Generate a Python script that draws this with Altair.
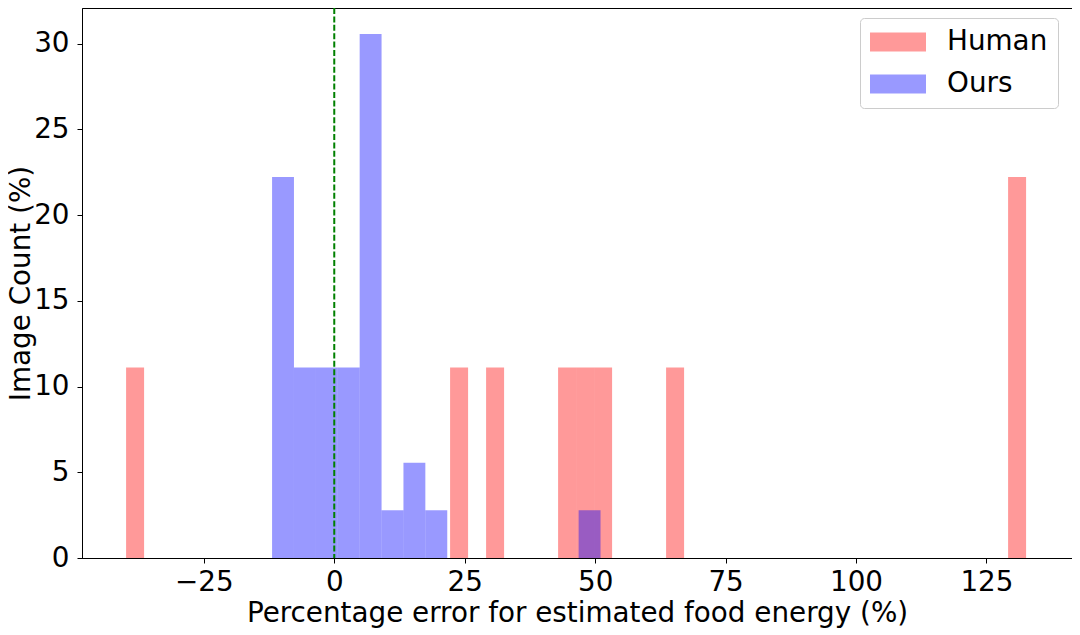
import altair as alt
import pandas as pd

# Histogram bins (left edge, bin width, height in %)
human_left = [-39.9, 22.2, 29.1, 42.9, 46.35, 49.8, 63.6, 129.15]
human_pct = [11.11, 11.11, 11.11, 11.11, 11.11, 11.11, 11.11, 22.22]
human_width = 3.45

ours_left = [-11.92, -7.72, -3.53, 0.67, 4.87, 9.07, 13.26, 17.46, 46.84]
ours_pct = [22.22, 11.11, 11.11, 11.11, 30.56, 2.78, 5.56, 2.78, 2.78]
ours_width = 4.197

series = ["Human", "Ours"]
colors = ["#ff0000", "#0000ff"]
x_ticks = [-25, 0, 25, 50, 75, 100, 125]
y_ticks = [0, 5, 10, 15, 20, 25, 30]
x_domain = [-48.35, 141.4]
y_domain = [0, 32.08]
ref_line = [0]

rows = []
for l, p in zip(human_left, human_pct):
    rows.append({"series": "Human", "x": l, "x2": l + human_width, "pct": p})
for l, p in zip(ours_left, ours_pct):
    rows.append({"series": "Ours", "x": l, "x2": l + ours_width, "pct": p})
df = pd.DataFrame(rows)
df["order"] = range(len(df))

FONT = "DejaVu Sans"
FS = 27.8

bars = alt.Chart(df).mark_rect(opacity=0.4, strokeWidth=0).encode(
    x=alt.X("x:Q", scale=alt.Scale(domain=x_domain, nice=False, zero=False),
            axis=alt.Axis(values=x_ticks, title="Percentage error for estimated food energy (%)",
                          labelPadding=5, titlePadding=4)),
    x2="x2:Q",
    y=alt.Y("pct:Q", scale=alt.Scale(domain=y_domain, nice=False),
            axis=alt.Axis(values=y_ticks, title="Image Count (%)", labelPadding=8, titlePadding=-2)),
    y2=alt.datum(0),
    color=alt.Color("series:N", scale=alt.Scale(domain=series, range=colors),
                    legend=alt.Legend(title=None, orient="none", legendX=778, legendY=10,
                                      symbolType="M-1,-0.68L3,-0.68L3,0.68L-1,0.68Z",
                                      symbolSize=784, symbolOpacity=0.4, symbolStrokeWidth=0,
                                      labelFontSize=FS, labelFont=FONT, labelColor="black",
                                      labelOffset=49, rowPadding=14, padding=10,
                                      strokeColor="#cccccc", cornerRadius=4, fillColor="white")),
    order="order:Q",
)

rule = alt.Chart(pd.DataFrame({"x": ref_line})).mark_rule(
    color="#008000", strokeWidth=2, strokeDash=[6, 2.4]
).encode(x="x:Q")

chart = alt.layer(bars, rule).properties(
    width=990, height=550,
    autosize=alt.AutoSizeParams(type="none"),
    padding={"left": 74, "top": 0, "right": 0, "bottom": 70},
).configure_view(stroke="black", strokeWidth=1).configure_axis(
    grid=False, domainColor="black", tickColor="black", tickSize=5, tickWidth=1,
    labelFont=FONT, labelFontSize=FS, labelColor="black",
    titleFont=FONT, titleFontSize=FS, titleFontWeight="normal", titleColor="black",
)

chart.save("out.html", embed_options={"renderer": "svg", "actions": False})
